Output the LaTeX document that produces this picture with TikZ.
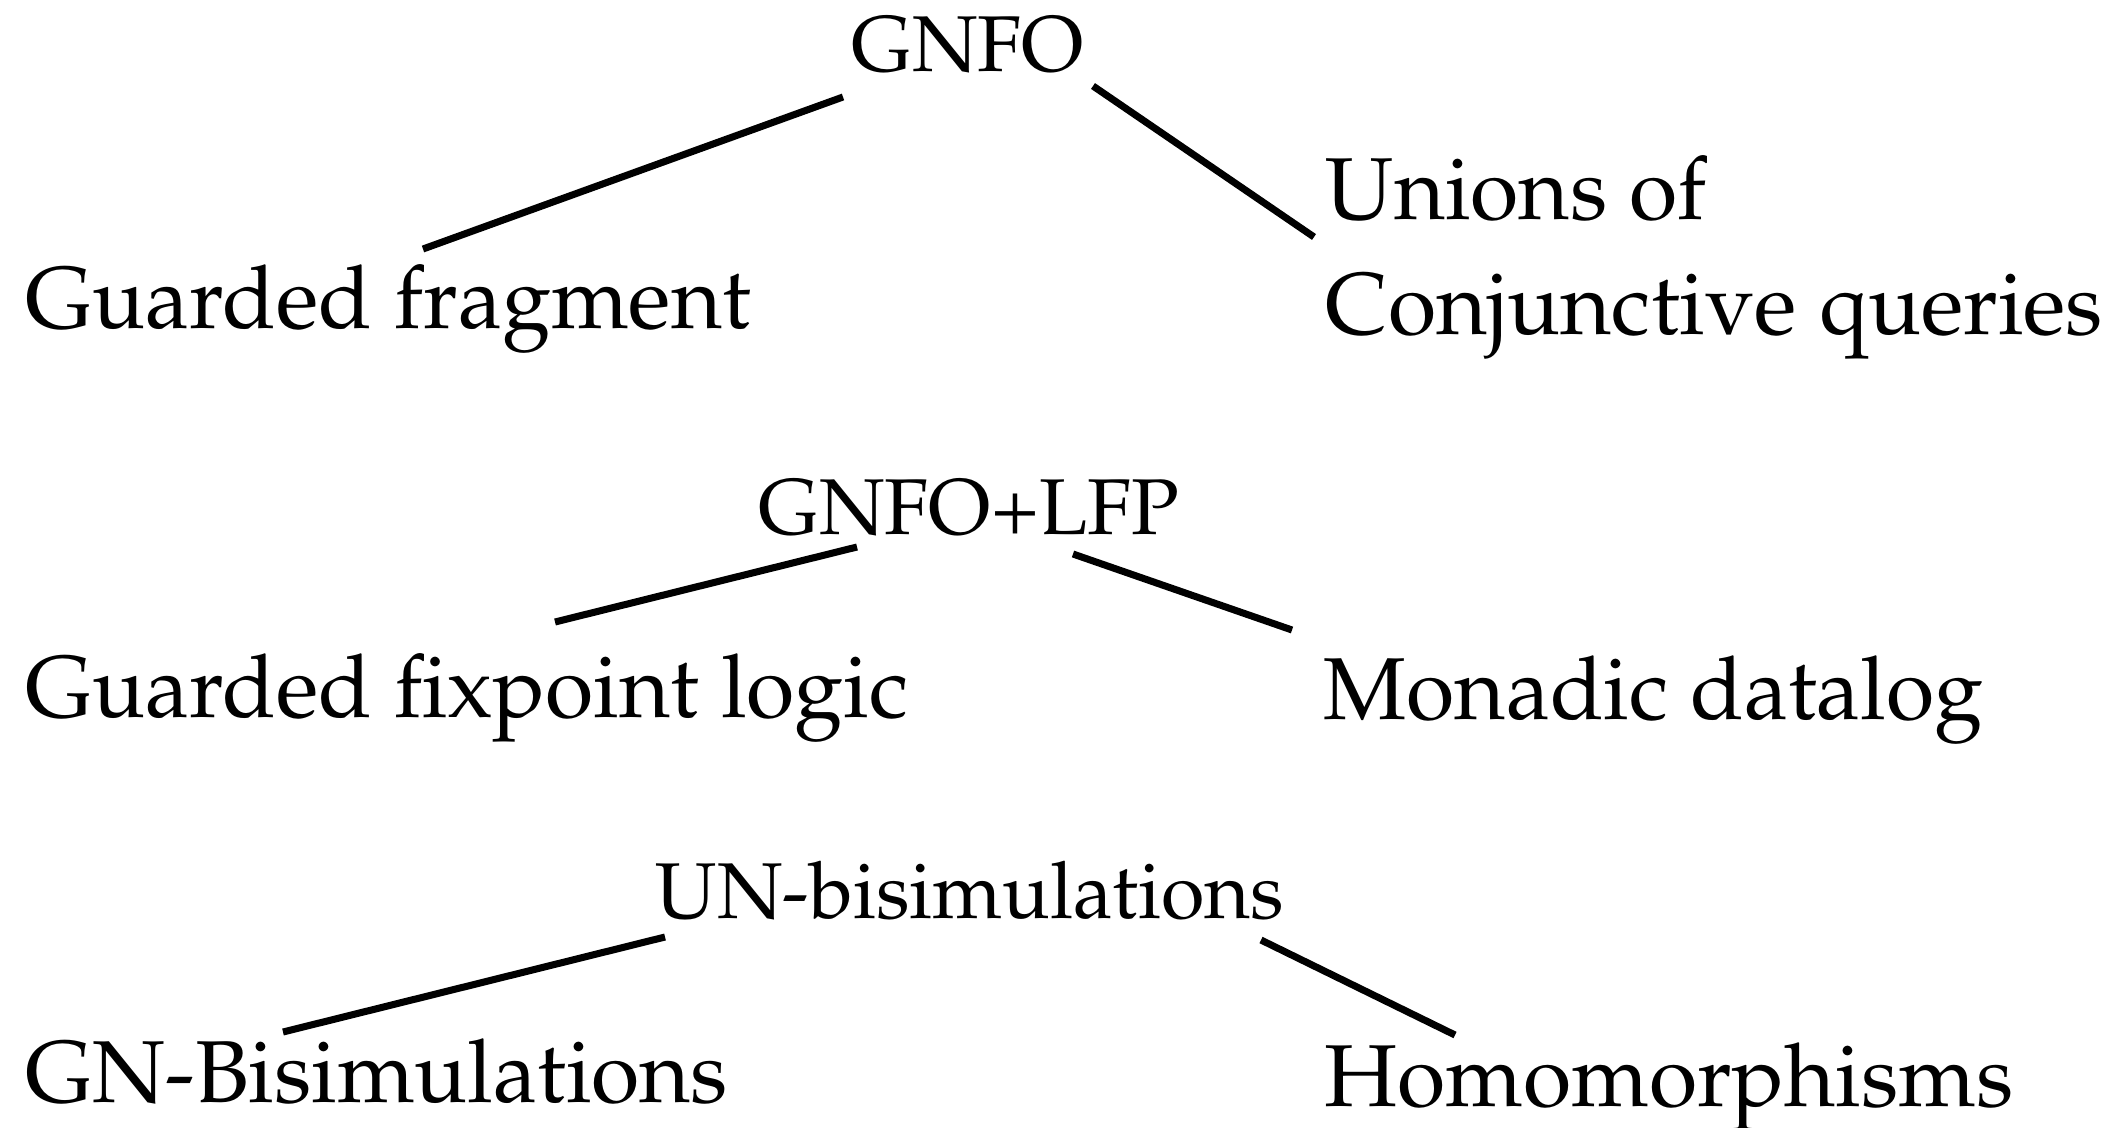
\documentclass[tikz,border=0pt]{standalone}
\usepackage[T1]{fontenc}
\usepackage{mathpazo}
\usepackage{tikz}
\usetikzlibrary{calc}

\begin{document}
\begin{tikzpicture}[x=0.01cm,y=-0.01cm]
  \tikzset{top/.style = {inner sep=0pt,anchor=base,font=\fontsize{22.5}{27}\selectfont}}
  \tikzset{leaf/.style = {inner sep=0pt,anchor=base west,align=left,font=\fontsize{25}{32.7}\selectfont}}
  \tikzset{edge/.style = {line width=2pt}}
  \useasboundingbox (0,0) rectangle (2121,1127);

	\node[top] (gnfo) at (968,71) {GNFO};
	\node[leaf] (gf) at (25,328) {Guarded fragment};
	\node[leaf] (ucq) at (1325,334) {Unions of\\Conjunctive queries};

	\node[top] (gnfolfp) at (969,534) {GNFO+LFP};
	\node[leaf] (gfl) at (25,717) {Guarded fixpoint logic};
	\node[leaf] (mdl) at (1323,719) {Monadic datalog};

	\node[top] (unbis) at (970,918) {UN-bisimulations};
	\node[leaf] (gnbis) at (25,1102) {GN-Bisimulations};
	\node[leaf] (hom) at (1324,1106) {Homomorphisms};

	\draw[edge] ($(gnfo.base)+(-125,26)$) -- ($(gf.base west)+(398,-79)$);
	\draw[edge] ($(gnfo.base)+(125,15)$) -- ($(ucq.base west)+(-11,-97)$);
	\draw[edge] ($(gnfolfp.base)+(-112,13)$) -- ($(gfl.base west)+(530,-95)$);
	\draw[edge] ($(gnfolfp.base)+(104,20)$) -- ($(mdl.base west)+(-31,-89)$);
	\draw[edge] ($(unbis.base)+(-305,19)$) -- ($(gnbis.base west)+(258,-70)$);
	\draw[edge] ($(unbis.base)+(291,22)$) -- ($(hom.base west)+(131,-71)$);
\end{tikzpicture}
\end{document}
